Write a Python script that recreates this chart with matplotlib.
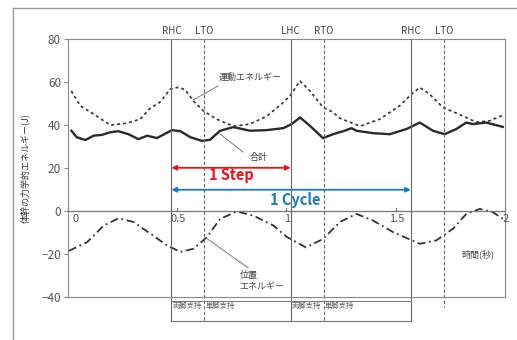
import matplotlib
matplotlib.use("Agg")
import matplotlib.pyplot as plt
from matplotlib.lines import Line2D

plt.rcParams['font.family'] = ['Noto Sans CJK JP', 'DejaVu Sans']

# kinetic energy (dotted)
kin_t = [0.015, 0.057, 0.118, 0.194, 0.27, 0.33, 0.377, 0.42, 0.468, 0.505, 0.537, 0.574,
         0.62, 0.68, 0.757, 0.833, 0.91, 0.985, 1.016, 1.062, 1.107, 1.167, 1.213, 1.244,
         1.29, 1.336, 1.427, 1.518, 1.572, 1.61, 1.655, 1.715, 1.806, 1.868, 1.929, 1.99]
kin_v = [55.7, 48.7, 44.9, 39.8, 40.7, 42.6, 47.7, 50.4, 56.5, 57.4, 56.2, 51.0,
         46.4, 42.6, 39.3, 40.3, 44.0, 50.3, 53.4, 60.3, 55.7, 48.1, 45.8, 43.0,
         41.2, 39.3, 42.6, 48.8, 54.2, 57.3, 54.2, 48.1, 44.1, 41.2, 41.8, 44.4]

# total energy (solid)
tot_t = [0.016, 0.04, 0.08, 0.117, 0.156, 0.194, 0.23, 0.277, 0.322, 0.362, 0.407, 0.476,
         0.514, 0.56, 0.613, 0.65, 0.696, 0.757, 0.833, 0.91, 0.985, 1.024, 1.062, 1.107,
         1.167, 1.213, 1.26, 1.298, 1.32, 1.395, 1.473, 1.549, 1.61, 1.67, 1.724, 1.777,
         1.823, 1.852, 1.914, 1.99]
tot_v = [37.2, 34.2, 32.9, 34.9, 35.3, 36.5, 37.0, 35.6, 33.3, 34.9, 33.8, 37.5,
         37.0, 34.2, 32.5, 33.0, 37.2, 38.9, 37.2, 37.5, 38.4, 40.3, 43.4, 39.5,
         33.8, 35.6, 37.0, 38.4, 37.2, 36.1, 35.6, 38.0, 41.0, 37.2, 35.6, 38.0,
         41.0, 40.3, 41.0, 39.0]

# potential energy (dash-dot)
pot_t = [0.004, 0.088, 0.164, 0.232, 0.3, 0.377, 0.453, 0.514, 0.574, 0.636, 0.696, 0.773,
         0.848, 0.94, 1.0, 1.089, 1.168, 1.244, 1.32, 1.396, 1.488, 1.61, 1.686, 1.762,
         1.823, 1.884, 1.944, 1.99]
pot_v = [-18.6, -14.5, -6.8, -3.4, -5.2, -10.6, -16.0, -19.1, -17.6, -12.2, -3.7, -0.3,
         -2.2, -6.8, -12.0, -17.0, -13.0, -5.2, -1.4, -4.5, -9.9, -15.3, -13.7, -8.3,
         -1.4, 0.9, -0.6, -3.7]

events = ['RHC', 'LTO', 'LHC', 'RTO', 'RHC', 'LTO']
event_t = [0.473, 0.623, 1.019, 1.171, 1.569, 1.723]
event_solid = [True, False, True, False, True, False]

xticks = [0, 0.5, 1, 1.5, 2]
xticklabels = ['0', '0.5', '1', '1.5', '2']
yticks = [80, 60, 40, 20, 0, -20, -40]

support = ['両脚支持', '単脚支持', '両脚支持', '単脚支持']

fig = plt.figure(figsize=(5.17, 3.40), dpi=100)
ax = fig.add_axes([0.1315, 0.1265, 0.8453, 0.76])

ax.plot(kin_t, kin_v, color='#333333', lw=1.2, linestyle=(0, (1.8, 1.8)))
ax.plot(tot_t, tot_v, color='#2a2a2a', lw=1.7)
ax.plot(pot_t, pot_v, color='#333333', lw=1.3, linestyle=(0, (4.5, 2, 1, 2)))

ax.set_xlim(0, 2)
ax.set_ylim(-40, 80)
ax.axhline(0, color='#777777', lw=0.9)
for s in ax.spines.values():
    s.set_color('#888888')
    s.set_linewidth(0.8)

ax.set_xticks([])
ax.set_yticks(yticks)
ax.tick_params(axis='y', length=3, color='#888888', labelcolor='#555555', labelsize=8.5, pad=2)
ax.set_ylabel('体幹の力学的エネルギー(J)', fontsize=6.5, color='#333333', labelpad=8)

# x ticks sit on the zero line
for xt, lab in zip(xticks, xticklabels):
    ax.plot([xt, xt], [0, 1.2], color='#777777', lw=0.9, clip_on=False)
    ax.text(xt + (0.02 if xt == 0 else 0.005), -1.6, lab, ha='left' if xt == 0 else 'center',
            va='top', fontsize=8, color='#555555')

# gait events
for name, et, solid in zip(events, event_t, event_solid):
    bottom = -51.1 if et < 1.7 else -44.6
    ls = '-' if solid else (0, (3, 2))
    ax.plot([et, et], [80, bottom], color='#666666', lw=0.8, linestyle=ls, clip_on=False)
    ax.text(et, 83.5, name, ha='center', va='center', fontsize=7, color='#444444')

# support phase table
ax.plot([event_t[0], event_t[4]], [-41.9, -41.9], color='#777777', lw=0.7, clip_on=False)
ax.plot([event_t[0], event_t[4]], [-51.1, -51.1], color='#777777', lw=0.8, clip_on=False)
for lab, et in zip(support, event_t[:4]):
    ax.text(et + 0.005, -44.0, lab, ha='left', va='center', fontsize=5.3, color='#555555')

# annotations
ax.plot([0.573, 0.687], [51.5, 58.0], color='#777777', lw=0.7)
ax.text(0.69, 62.1, '運動エネルギー', ha='left', va='center', fontsize=6.5, color='#444444')
ax.plot([0.696, 0.801], [35.7, 27.3], color='#777777', lw=0.7)
ax.text(0.874, 25.0, '合計', ha='center', va='center', fontsize=6.5, color='#444444')
ax.plot([0.632, 0.824], [-12.6, -26.5], color='#777777', lw=0.7)
ax.text(0.785, -32.6, '位置\nエネルギー', ha='left', va='center', fontsize=6.5,
        color='#444444', linespacing=1.25)
ax.text(1.874, -20.0, '時間(秒)', ha='center', va='center', fontsize=6.5, color='#444444')

# step / cycle arrows
ax.annotate('', xy=(event_t[0], 20.0), xytext=(event_t[2], 20.0),
            arrowprops=dict(arrowstyle='<|-|>', color='#e8141c', lw=1.3,
                            mutation_scale=7, shrinkA=0, shrinkB=0))
ax.text(0.748, 16.6, '1 Step', ha='center', va='center', fontsize=10.5,
        fontweight='bold', color='#e8141c')
ax.annotate('', xy=(event_t[0], 9.8), xytext=(event_t[4], 9.8),
            arrowprops=dict(arrowstyle='<|-|>', color='#1f78c1', lw=1.3,
                            mutation_scale=7, shrinkA=0, shrinkB=0))
ax.text(1.04, 5.0, '1 Cycle', ha='center', va='center', fontsize=10.5,
        fontweight='bold', color='#1f78c1')

# scanned page frame
fig.add_artist(Line2D([0.025, 1.0], [0.977, 0.977], color='#999999', lw=1.0))
fig.add_artist(Line2D([0.025, 0.025], [0.0, 0.977], color='#999999', lw=1.0))

fig.savefig('out.png', dpi=100)
